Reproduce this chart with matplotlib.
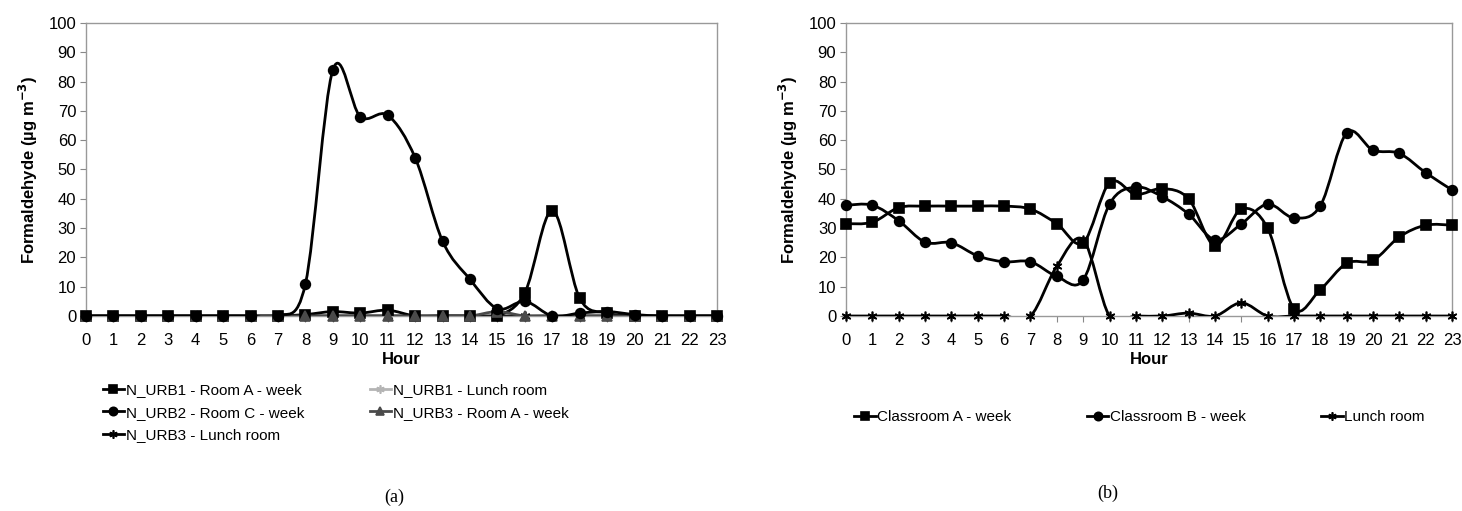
import numpy as np
import matplotlib
matplotlib.use("Agg")
import matplotlib.pyplot as plt
from matplotlib.path import Path
from matplotlib.patches import PathPatch
from matplotlib.lines import Line2D

plt.rcParams["font.family"] = ["Liberation Sans", "DejaVu Sans"]

horas = list(range(24))

# (a) N_URB schools
urb1_sala_a = [0, 0, 0, 0, 0, 0, 0, 0, 0.5, 1.5, 1, 2, 0, 0, 0, 0, 8, 36, 6, 1, 0, 0, 0, 0]
urb1_comedor = [0] * 24
urb2_sala_c = [0, 0, 0, 0, 0, 0, 0, 0, 11, 84, 68, 68.5, 54, 25.5, 12.5, 2.5, 5, 0, 1, 1.5, 0.5, 0, 0, 0]
urb3_sala_a = [0, 0, 0, 0, 0, 0, 0, 0, 0, 0, 0, 0, 0, 0, 0, 1.5, 0, 0, 0, 0, 0, 0, 0, 0]
urb3_comedor = [0] * 24

# (b) classrooms
aula_a = [31.5, 32, 37, 37.5, 37.5, 37.5, 37.5, 36.5, 31.5, 25, 45.5, 41.5, 43.5, 40,
          24, 36.5, 30, 2.5, 9, 18, 19, 27, 31, 31]
aula_b = [37.8, 37.8, 32.5, 25.2, 25, 20.5, 18.5, 18.5, 13.5, 12.3, 38.2, 44, 40.7, 34.8,
          26, 31.4, 38.2, 33.5, 37.6, 62.5, 56.6, 55.5, 48.9, 43]
comedor_b = [0, 0, 0, 0, 0, 0, 0, 0, 17, 26, 0, 0, 0, 1, 0, 4.5, 0, 0, 0, 0, 0, 0, 0, 0]

asterisco = (6, 2, 0)


def curva_suave(ax, x, y, color, lw=2.0, z=2):
    # curva tipo Excel (Bezier con tension 1/6)
    x = np.asarray(x, float)
    y = np.asarray(y, float)
    n = len(x)
    verts = [(x[0], y[0])]
    codes = [Path.MOVETO]
    for i in range(n - 1):
        i0 = max(i - 1, 0)
        i3 = min(i + 2, n - 1)
        c1 = (x[i] + (x[i + 1] - x[i0]) / 6, y[i] + (y[i + 1] - y[i0]) / 6)
        c2 = (x[i + 1] - (x[i3] - x[i]) / 6, y[i + 1] - (y[i3] - y[i]) / 6)
        verts += [c1, c2, (x[i + 1], y[i + 1])]
        codes += [Path.CURVE4] * 3
    ax.add_patch(PathPatch(Path(verts, codes), fill=False, edgecolor=color,
                           lw=lw, zorder=z, capstyle="round", joinstyle="round"))


def serie(ax, y, marker, color, ms, z):
    curva_suave(ax, horas, y, color, z=z)
    ax.plot(horas, y, linestyle="none", marker=marker, color=color,
            markersize=ms, markeredgewidth=1.2, zorder=z + 0.5, clip_on=False)
    return Line2D([], [], color=color, lw=2.0, marker=marker, markersize=ms - 1,
                  markeredgewidth=1.2)


def formato(ax):
    ax.set_xlim(0, 23)
    ax.set_ylim(0, 100)
    ax.set_xticks(horas)
    ax.set_yticks(range(0, 101, 10))
    ax.tick_params(labelsize=12, length=4, color="#888888", pad=3)
    ax.tick_params(axis="x", pad=8)
    for s in ax.spines.values():
        s.set_color("#999999")
        s.set_linewidth(1.0)
    ax.set_xlabel("Hour", fontsize=12, fontweight="bold", labelpad=3)
    ax.set_ylabel("Formaldehyde (\u00b5g m$^{\\mathbf{-3}}$)", fontsize=12,
                  fontweight="bold", labelpad=6)


fig = plt.figure(figsize=(14.62, 5.11), dpi=100)

ax1 = fig.add_axes([0.0588, 0.3816, 0.4316, 0.5734])
formato(ax1)
h1 = serie(ax1, urb1_sala_a, "s", "black", 7, 3)
h2 = serie(ax1, urb1_comedor, asterisco, "#b4b4b4", 7, 2)
h3 = serie(ax1, urb2_sala_c, "o", "black", 7, 4)
h5 = serie(ax1, urb3_comedor, asterisco, "black", 7, 2.2)
h4 = serie(ax1, urb3_sala_a, "^", "#4a4a4a", 7, 3.2)

fuente_leg = {"family": ["Liberation Sans Narrow", "Liberation Sans"], "size": 11}
fig.legend([h1, h3, h5, h2, h4],
           ["N_URB1 - Room A - week", "N_URB2 - Room C - week", "N_URB3 - Lunch room",
            "N_URB1 - Lunch room", "N_URB3 - Room A - week"],
           ncol=2, loc="upper left", bbox_to_anchor=(0.066, 0.262), frameon=False,
           prop=fuente_leg, handlelength=1.4, handletextpad=0.1, columnspacing=4.3,
           labelspacing=0.55, borderaxespad=0)

ax2 = fig.add_axes([0.5787, 0.3816, 0.4145, 0.5734])
formato(ax2)
g1 = serie(ax2, aula_a, "s", "black", 7, 3)
g2 = serie(ax2, aula_b, "o", "black", 7, 3)
g3 = serie(ax2, comedor_b, asterisco, "black", 7, 3)

fig.legend([g1, g2, g3],
           ["Classroom A - week", "Classroom B - week", "Lunch room"],
           ncol=3, loc="center", bbox_to_anchor=(0.7795, 0.183), frameon=False,
           prop=fuente_leg, handlelength=1.4, handletextpad=0.1, columnspacing=4.95,
           borderaxespad=0)

fig.text(394 / 1462, 1 - 497 / 511, "(a)", fontsize=13, family="Liberation Serif",
         ha="center", va="center")
fig.text(1108 / 1462, 1 - 493 / 511, "(b)", fontsize=13, family="Liberation Serif",
         ha="center", va="center")

fig.savefig("out.png", dpi=100)
